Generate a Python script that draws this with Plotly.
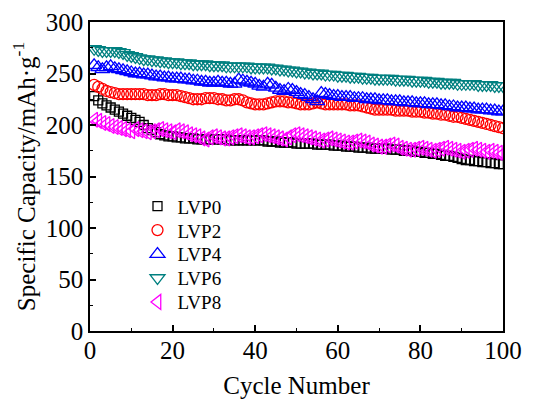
import plotly.graph_objects as go

cycles = list(range(1, 101))

lvp0 = [228, 224, 221, 219, 217, 215, 213, 211, 209, 207,
        205, 203, 200, 197, 195, 193, 191, 190, 189, 189,
        188, 188, 187, 187, 187, 186, 186, 186, 186, 186,
        186, 186, 186, 185, 185, 185, 185, 185, 185, 185,
        185, 185, 184, 184, 184, 183, 183, 183, 183, 182,
        182, 182, 182, 182, 181, 181, 181, 181, 180, 180,
        180, 179, 179, 179, 178, 178, 178, 177, 177, 177,
        177, 177, 176, 176, 176, 175, 175, 175, 174, 174,
        173, 173, 172, 172, 171, 170, 170, 169, 168, 167,
        166, 166, 165, 165, 164, 164, 163, 163, 162, 162]

lvp2 = [239, 237, 235, 233, 232, 231, 230, 230, 230, 230,
        230, 230, 230, 229, 229, 229, 230, 230, 229, 229,
        229, 228, 227, 226, 225, 225, 225, 226, 226, 226,
        225, 225, 224, 224, 225, 225, 224, 222, 221, 220,
        220, 220, 221, 222, 223, 223, 223, 222, 222, 221,
        220, 220, 220, 221, 222, 221, 220, 220, 220, 220,
        220, 220, 219, 219, 219, 218, 217, 216, 215, 215,
        215, 215, 215, 214, 214, 214, 214, 213, 213, 213,
        212, 212, 211, 211, 210, 210, 209, 208, 208, 207,
        206, 205, 204, 203, 202, 201, 200, 199, 198, 197]

lvp4 = [258, 256, 254, 256, 257, 255, 254, 253, 252, 251,
        250, 250, 249, 249, 248, 247, 247, 246, 246, 245,
        245, 245, 244, 244, 243, 243, 242, 242, 241, 241,
        242, 241, 241, 240, 240, 244, 243, 242, 241, 240,
        238, 237, 240, 239, 236, 234, 233, 235, 234, 232,
        230, 229, 227, 225, 223, 231, 230, 229, 228, 228,
        227, 227, 227, 226, 226, 226, 225, 225, 225, 224,
        224, 224, 223, 223, 223, 222, 222, 222, 221, 221,
        221, 220, 220, 220, 219, 219, 218, 218, 217, 217,
        217, 216, 216, 215, 215, 215, 214, 214, 213, 213]

lvp6 = [274, 273, 272, 272, 272, 272, 271, 270, 268, 267,
        266, 265, 264, 264, 263, 263, 262, 262, 261, 261,
        261, 260, 260, 260, 259, 259, 259, 259, 258, 258,
        258, 258, 257, 257, 257, 257, 257, 257, 256, 256,
        256, 256, 256, 255, 255, 254, 254, 253, 253, 252,
        252, 251, 251, 250, 250, 250, 249, 249, 249, 248,
        248, 248, 247, 247, 247, 246, 246, 246, 245, 245,
        245, 245, 245, 244, 244, 244, 244, 243, 243, 243,
        243, 242, 242, 242, 241, 241, 241, 241, 240, 240,
        240, 240, 240, 239, 239, 239, 239, 238, 238, 238]

lvp8 = [205, 204, 202, 201, 199, 198, 197, 196, 195, 194,
        196, 195, 194, 193, 194, 195, 196, 195, 194, 193,
        195, 194, 193, 191, 190, 189, 187, 186, 188, 189,
        188, 187, 187, 188, 189, 190, 189, 188, 188, 189,
        190, 191, 190, 189, 188, 187, 186, 188, 190, 191,
        190, 189, 188, 187, 186, 185, 186, 187, 186, 185,
        184, 183, 183, 184, 185, 184, 183, 181, 180, 179,
        179, 180, 181, 180, 178, 177, 176, 176, 177, 178,
        177, 176, 175, 176, 177, 178, 177, 176, 175, 174,
        175, 176, 177, 176, 175, 174, 175, 174, 173, 172]

names = ["LVP0", "LVP2", "LVP4", "LVP6", "LVP8"]
series = [lvp0, lvp2, lvp4, lvp6, lvp8]
colors = ["#000000", "#FF0000", "#0000FF", "#008080", "#FF00FF"]
symbols = ["square-open", "circle-open", "triangle-up-open", "triangle-down-open", "triangle-left-open"]
sizes = [9, 11, 13, 13, 13]
legend_ids = ["legend", "legend2", "legend3", "legend4", "legend5"]

font_family = "Liberation Serif, Times New Roman, serif"

fig = go.Figure()
for n, s, c, sym, sz, lg in zip(names, series, colors, symbols, sizes, legend_ids):
    fig.add_trace(go.Scatter(
        x=cycles, y=s, mode="markers", name=n, legend=lg,
        marker=dict(symbol=sym, size=sz, color=c, line=dict(color=c, width=1.3)),
    ))

legend_layout = {}
for i, lg in enumerate(legend_ids):
    legend_layout[lg] = dict(
        x=0.115, y=0.465 - i * 0.0775, xanchor="left", yanchor="top",
        font=dict(family=font_family, size=19, color="black"),
        bgcolor="rgba(0,0,0,0)", itemwidth=30,
    )

fig.update_layout(
    width=528, height=393,
    margin=dict(l=82, r=33, t=14, b=70),
    plot_bgcolor="white", paper_bgcolor="white",
    font=dict(family=font_family, size=25, color="black"),
    showlegend=True,
    **legend_layout,
)
fig.update_xaxes(
    range=[0, 100], tickvals=[0, 20, 40, 60, 80, 100],
    ticks="inside", ticklen=6, tickwidth=1.5, tickcolor="black",
    minor=dict(dtick=10, ticks="inside", ticklen=3, tickwidth=1.2, tickcolor="black"),
    showline=True, linecolor="black", linewidth=1.6, mirror=True,
    showgrid=False, zeroline=False, automargin=False,
    title=dict(text="Cycle Number", font=dict(size=25), standoff=14),
    tickfont=dict(size=25), ticklabelstandoff=-4,
)
fig.update_yaxes(
    range=[0, 300], tickvals=[0, 50, 100, 150, 200, 250, 300],
    ticks="inside", ticklen=6, tickwidth=1.5, tickcolor="black",
    minor=dict(dtick=25, ticks="inside", ticklen=3, tickwidth=1.2, tickcolor="black"),
    showline=True, linecolor="black", linewidth=1.6, mirror=True,
    showgrid=False, zeroline=False, automargin=False,
    title=dict(text="Specific Capacity/mAh·g<sup>-1</sup>", font=dict(size=25), standoff=4),
    tickfont=dict(size=25),
)

fig.write_html("out.html")
